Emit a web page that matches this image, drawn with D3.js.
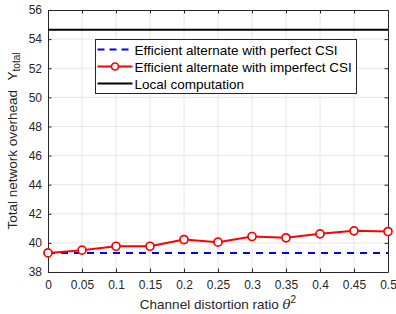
<!DOCTYPE html>
<html>
<head>
<meta charset="utf-8">
<script src="https://cdn.jsdelivr.net/npm/d3@7"></script>
<style>
  body { margin: 0; background: #fff; }
  svg { font-family: "Liberation Sans", Arial, sans-serif; }
</style>
</head>
<body>
<svg id="chart"></svg>
<script>
// данные
let ratios = [0, 0.05, 0.1, 0.15, 0.2, 0.25, 0.3, 0.35, 0.4, 0.45, 0.5];
let imperfect = [39.31, 39.5, 39.77, 39.77, 40.23, 40.05, 40.44, 40.35, 40.62, 40.83, 40.78];
let perfect = [39.31, 39.31];
let local = [54.65, 54.65];
let xTicks = [0, 0.05, 0.1, 0.15, 0.2, 0.25, 0.3, 0.35, 0.4, 0.45, 0.5];
let yTicks = [38, 40, 42, 44, 46, 48, 50, 52, 54, 56];
let legendLabels = ["Efficient alternate with perfect CSI", "Efficient alternate with imperfect CSI", "Local computation"];

let width = 396, height = 314;
let margin = {left: 48, right: 8, top: 10, bottom: 42};

let svg = d3.select("#chart").attr("width", width).attr("height", height);

let x = d3.scaleLinear().domain([0, 0.5]).range([margin.left, width - margin.right]);
let y = d3.scaleLinear().domain([38, 56]).range([height - margin.bottom, margin.top]);

// сетка
let grid = svg.append("g").attr("stroke", "#e6e6e6").attr("stroke-width", 1);
grid.selectAll(".gx").data(xTicks.slice(1, -1)).join("line")
  .attr("x1", d => x(d)).attr("x2", d => x(d))
  .attr("y1", y(38)).attr("y2", y(56));
grid.selectAll(".gy").data(yTicks.slice(1, -1)).join("line")
  .attr("y1", d => y(d)).attr("y2", d => y(d))
  .attr("x1", x(0)).attr("x2", x(0.5));

// оси (тики внутрь, как в Matlab)
let axisColor = "#262626";
let styleAxis = g => {
  g.select(".domain").attr("stroke", axisColor);
  g.selectAll(".tick line").attr("stroke", axisColor);
  g.selectAll(".tick text").attr("fill", axisColor).style("font-size", "12px");
};
let fmt = d => String(d);
svg.append("g").attr("transform", `translate(0,${y(38)})`)
  .call(d3.axisBottom(x).tickValues(xTicks).tickFormat(fmt).tickSizeInner(-3.5).tickSizeOuter(0).tickPadding(8))
  .call(styleAxis);
svg.append("g").attr("transform", `translate(0,${y(56)})`)
  .call(d3.axisTop(x).tickValues(xTicks).tickFormat("").tickSizeInner(-3.5).tickSizeOuter(0))
  .call(styleAxis);
svg.append("g").attr("transform", `translate(${x(0)},0)`)
  .call(d3.axisLeft(y).tickValues(yTicks).tickFormat(fmt).tickSizeInner(-3.5).tickSizeOuter(0).tickPadding(6))
  .call(styleAxis);
svg.append("g").attr("transform", `translate(${x(0.5)},0)`)
  .call(d3.axisRight(y).tickValues(yTicks).tickFormat("").tickSizeInner(-3.5).tickSizeOuter(0))
  .call(styleAxis);

// линии
let line = d3.line().x(d => x(d[0])).y(d => y(d[1]));
let ends = [0, 0.5];

svg.append("path")
  .attr("d", line(ends.map((d, i) => [d, local[i]])))
  .attr("fill", "none").attr("stroke", "#000").attr("stroke-width", 2);

svg.append("path")
  .attr("d", line(ends.map((d, i) => [d, perfect[i]])))
  .attr("fill", "none").attr("stroke", "#0000ff").attr("stroke-width", 2)
  .attr("stroke-dasharray", "7,6");

svg.append("path")
  .attr("d", line(ratios.map((d, i) => [d, imperfect[i]])))
  .attr("fill", "none").attr("stroke", "#ff0000").attr("stroke-width", 2);

svg.selectAll(".mk").data(ratios).join("circle")
  .attr("cx", d => x(d)).attr("cy", (d, i) => y(imperfect[i]))
  .attr("r", 4).attr("fill", "#fff").attr("stroke", "#ff0000").attr("stroke-width", 1.7);

// легенда
let lg = svg.append("g").attr("transform", "translate(95.5,39.5)");
lg.append("rect").attr("width", 261).attr("height", 54)
  .attr("fill", "#fff").attr("stroke", axisColor).attr("stroke-width", 1);
let rows = [0, 1, 2].map(i => 10 + i * 17);
let lstyles = [
  {stroke: "#0000ff", dash: "7,5"},
  {stroke: "#ff0000", dash: null},
  {stroke: "#000", dash: null}
];
lg.selectAll(".ll").data(rows).join("line")
  .attr("x1", 2).attr("x2", 37).attr("y1", d => d).attr("y2", d => d)
  .attr("stroke", (d, i) => lstyles[i].stroke).attr("stroke-width", 2)
  .attr("stroke-dasharray", (d, i) => lstyles[i].dash);
lg.append("circle").attr("cx", 19.5).attr("cy", rows[1]).attr("r", 3.5)
  .attr("fill", "#fff").attr("stroke", "#ff0000").attr("stroke-width", 1.7);
lg.selectAll(".lt").data(legendLabels).join("text")
  .attr("x", 39).attr("y", (d, i) => rows[i] + 5)
  .style("font-size", "13.5px").attr("fill", "#000").text(d => d);

// подписи осей
svg.append("text")
  .attr("x", (x(0) + x(0.5)) / 2).attr("y", 309)
  .attr("text-anchor", "middle").attr("fill", axisColor).style("font-size", "13.5px")
  .html('Channel distortion ratio <tspan font-family="DejaVu Serif" font-style="italic">θ</tspan><tspan dy="-6" font-size="10px">2</tspan>');

svg.append("text")
  .attr("transform", `translate(17,${(y(38) + y(56)) / 2}) rotate(-90)`)
  .attr("text-anchor", "middle").attr("fill", axisColor).style("font-size", "13.5px")
  .html('Total network overhead <tspan dx="6">Y</tspan><tspan dy="3" font-size="10px">total</tspan>');
</script>
</body>
</html>
